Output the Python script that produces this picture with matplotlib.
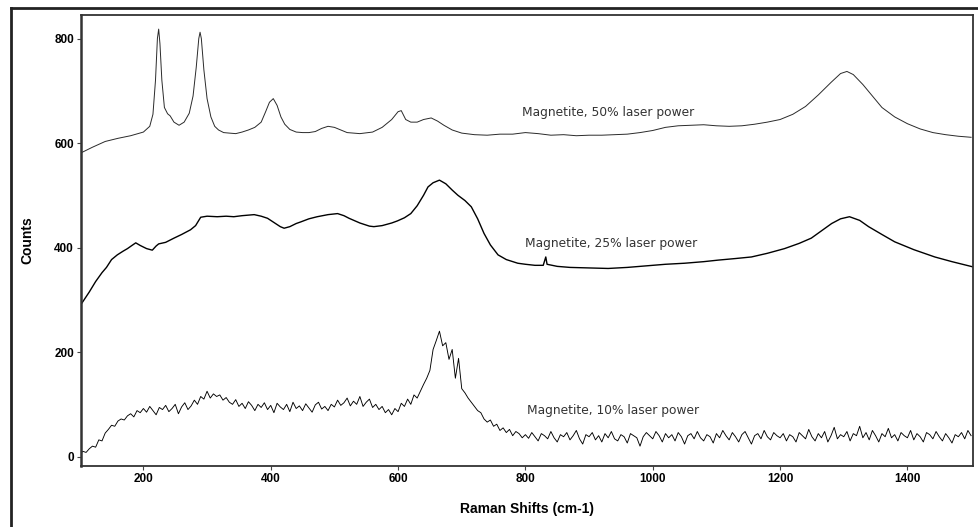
import numpy as np
import matplotlib.pyplot as plt
from matplotlib.lines import Line2D

# 50% laser power
x50 = [100, 120, 140, 160, 180, 200, 210, 215, 219, 222,
       224, 226, 229, 233, 238, 242, 248, 256, 264, 272,
       278, 283, 287, 289, 291, 295, 300, 306, 312, 318,
       326, 335, 345, 355, 365, 375, 385, 392, 398, 404,
       410, 416, 422, 430, 440, 450, 460, 470, 480, 490,
       500, 510, 520, 540, 560, 575, 590, 600, 605, 612,
       620, 630, 640, 652, 662, 672, 685, 700, 720, 740,
       760, 780, 800, 820, 840, 860, 880, 900, 920, 940,
       960, 980, 1000, 1020, 1040, 1060, 1080, 1100, 1120, 1140,
       1160, 1180, 1200, 1220, 1240, 1260, 1280, 1295, 1305, 1315,
       1330, 1345, 1360, 1380, 1400, 1420, 1440, 1460, 1480, 1500]
y50 = [580, 592, 603, 609, 614, 621, 632, 655, 720, 800,
       818, 790, 720, 668, 656, 652, 640, 634, 640, 657,
       690, 745, 800, 812, 800, 740, 685, 650, 632, 625,
       620, 619, 618, 621, 625, 630, 640, 660, 678, 685,
       672, 650, 636, 626, 621, 620, 620, 622, 628, 632,
       630, 625, 620, 618, 621, 630, 645, 660, 662, 645,
       640, 640, 645, 648, 642, 634, 625, 619, 616, 615,
       617, 617, 620, 618, 615, 616, 614, 615, 615, 616,
       617, 620, 624, 630, 633, 634, 635, 633, 632, 633,
       636, 640, 645, 655, 670, 692, 716, 733, 737, 731,
       712, 690, 668, 650, 637, 627, 620, 616, 613, 611]

# 25% laser power
x25 = [103, 115, 125, 135, 142, 150, 159, 168, 175, 182,
       188, 195, 205, 214, 220, 224, 235, 248, 260, 274,
       282, 290, 300, 316, 330, 342, 355, 374, 385, 395,
       405, 415, 421, 430, 440, 447, 460, 473, 490, 505,
       515, 523, 540, 555, 562, 575, 590, 599, 610, 620,
       630, 640, 647, 655, 665, 675, 685, 694, 705, 715,
       725, 735, 745, 757, 770, 788, 800, 815, 828, 832,
       834, 850, 870, 900, 930, 960, 990, 1020, 1050, 1080,
       1103, 1130, 1155, 1180, 1207, 1230, 1249, 1265, 1281, 1295,
       1309, 1325, 1339, 1360, 1380, 1410, 1443, 1470, 1503]
y25 = [293, 315, 335, 352, 362, 377, 386, 393, 398, 404,
       409, 404, 398, 395, 403, 407, 410, 418, 425, 434,
       442, 458, 460, 459, 460, 459, 461, 463, 460, 456,
       448, 440, 437, 440, 446, 449, 455, 459, 463, 465,
       461, 456, 447, 441, 440, 442, 447, 451, 457, 465,
       480, 500, 516, 524, 529, 522, 510, 500, 490, 478,
       455, 427, 405, 386, 377, 370, 368, 366, 366, 382,
       368, 364, 362, 361, 360, 362, 365, 368, 370, 373,
       376, 379, 382, 389, 398, 408, 418, 432, 446, 455,
       459, 452, 440, 425, 411, 396, 382, 373, 363]

# 10% laser power, every 5 cm-1 from 100 to 1500
x10 = list(range(100, 1505, 5))
y10 = [5, 10, 8, 15, 20, 18, 32, 30, 45, 52, 60, 58, 68, 72, 70, 78, 82, 76, 88, 84,
       92, 85, 96, 88, 80, 94, 90, 98, 86, 92, 100, 82, 95, 103, 90, 97, 108, 100, 115, 110,
       125, 112, 120, 115, 118, 108, 113, 104, 100, 109, 96, 102, 92, 105, 98, 88, 100, 94, 103, 90,
       98, 84, 102, 95, 90, 100, 86, 104, 92, 97, 88, 101, 93, 85, 99, 104, 91, 96, 88, 100,
       95, 108, 98, 103, 112, 97, 106, 100, 115, 96, 104, 110, 94, 100, 90, 96, 84, 90, 80, 92,
       86, 102, 96, 110, 100, 118, 112, 125, 138, 150, 165, 205, 222, 240, 212, 218, 186, 205, 150, 188,
       130, 122, 112, 104, 96, 88, 84, 72, 66, 70, 58, 62, 50, 55, 46, 52, 40, 48, 44, 36,
       42, 35, 46, 38, 30, 44, 40, 34, 48, 36, 28, 42, 38, 46, 32, 40, 50, 34, 24, 42,
       38, 46, 32, 40, 28, 44, 36, 48, 34, 30, 42, 38, 26, 44, 40, 36, 20, 38, 46, 40,
       34, 48, 40, 28, 44, 36, 42, 30, 46, 38, 24, 40, 44, 34, 48, 36, 30, 42, 38, 26,
       44, 36, 50, 40, 32, 46, 38, 28, 42, 48, 36, 24, 40, 44, 34, 50, 38, 32, 46, 40,
       36, 44, 30, 42, 38, 28, 46, 40, 34, 52, 38, 30, 44, 36, 48, 28, 40, 56, 34, 42,
       38, 48, 30, 44, 40, 58, 36, 46, 32, 50, 40, 28, 44, 38, 54, 36, 42, 30, 46, 40,
       36, 50, 32, 44, 38, 28, 46, 42, 34, 48, 38, 30, 44, 36, 26, 42, 38, 46, 34, 50,
       40]

labels = ["Magnetite, 50% laser power", "Magnetite, 25% laser power", "Magnetite, 10% laser power"]
label_pos = [(795, 659), (800, 408), (803, 89)]

fig = plt.figure(figsize=(9.79, 5.27), dpi=100)
ax = fig.add_axes([81/979, 1 - 466/527, (973 - 81)/979, (466 - 15)/527])

ax.plot(x50, y50, color='#2a2a2a', lw=0.7)
ax.plot(x25, y25, color='black', lw=1.0)
ax.plot(x10, y10, color='black', lw=0.65)

for txt, (tx, ty) in zip(labels, label_pos):
    ax.text(tx, ty, txt, fontsize=8.8, family='DejaVu Sans', color='#333333', va='center')

ax.set_xlim(102, 1503)
ax.set_ylim(-18, 845)
ax.set_xticks([200, 400, 600, 800, 1000, 1200, 1400])
ax.set_yticks([0, 200, 400, 600, 800])
ax.tick_params(length=3, width=0.8, pad=2, labelsize=8.5, color='#444444')
for lab in ax.get_xticklabels() + ax.get_yticklabels():
    lab.set_fontweight('bold')
    lab.set_family('Liberation Sans')
for sp in ax.spines.values():
    sp.set_linewidth(1.3)
    sp.set_color('#333333')
ax.spines['left'].set_linewidth(1.8)

ax.set_xlabel('Raman Shifts (cm-1)', fontsize=10, fontweight='bold', family='Liberation Sans', labelpad=12)
ax.set_ylabel('Counts', fontsize=10, fontweight='bold', family='Liberation Sans', labelpad=14)

# outer frame of the scanned figure
fig.add_artist(Line2D([11/979, 11/979], [0, 1 - 8/527], color='#222222', lw=2))
fig.add_artist(Line2D([11/979, 1], [1 - 8/527, 1 - 8/527], color='#222222', lw=2))

fig.savefig('out.png', dpi=100)
